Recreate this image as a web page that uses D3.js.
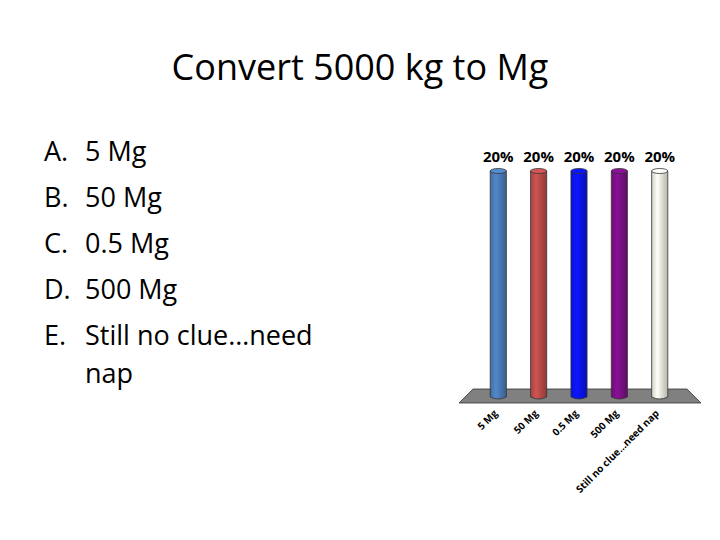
<!DOCTYPE html>
<html><head><meta charset="utf-8">
<script src="https://cdn.jsdelivr.net/npm/d3@7"></script>
<style>body{margin:0;background:#fff}</style></head>
<body><svg id="c" width="720" height="540"></svg>
<script>
const categories = ["5 Mg","50 Mg","0.5 Mg","500 Mg","Still no clue…need nap"];
const values = [20,20,20,20,20];
const colors = ["#4a7ab5","#b84c4a","#0a14ee","#7a0f86","#e9e8dc"];
const letters = ["A.","B.","C.","D.","E."];
const listText = ["5 Mg","50 Mg","0.5 Mg","500 Mg","Still no clue…need"];

const svg = d3.select("#c");
const font = "'Open Sans', 'Liberation Sans', sans-serif";
svg.append("text").attr("x",360).attr("y",80).attr("text-anchor","middle")
  .attr("font-family",font).attr("font-size",36).text("Convert 5000 kg to Mg");

const lg = svg.append("g").attr("font-family",font).attr("font-size",27);
letters.forEach((l,i)=>{
  const y = 161 + i*46;
  lg.append("text").attr("x",44).attr("y",y).text(l);
  lg.append("text").attr("x",85).attr("y",y).text(listText[i]);
});
lg.append("text").attr("x",85).attr("y",383).text("nap");

const x = d3.scaleBand().domain(categories).range([466,692]).padding(0.6);
const y = d3.scaleLinear().domain([0,20]).range([397,171]);
const g = svg.append("g");
// floor
g.append("path").attr("d","M473,389 L687,389 L701,403 L459,403 Z")
  .attr("fill","#808080").attr("stroke","#333").attr("stroke-width",0.8);
const defs = svg.append("defs");
categories.forEach((c,i)=>{
  const gr = defs.append("linearGradient").attr("id","g"+i);
  const base = d3.color(colors[i]);
  gr.append("stop").attr("offset","0%").attr("stop-color",base.darker(0.3));
  gr.append("stop").attr("offset","35%").attr("stop-color",base.brighter(0.3));
  gr.append("stop").attr("offset","100%").attr("stop-color",base.darker(0.7));
});
categories.forEach((c,i)=>{
  const bx = x(c), bw = x.bandwidth(), top = y(values[i]), bot = y(0);
  g.append("path")
    .attr("d",`M${bx},${top} L${bx},${bot} Q${bx+bw/2},${bot+4} ${bx+bw},${bot} L${bx+bw},${top} Z`)
    .attr("fill","url(#g"+i+")").attr("stroke","#333").attr("stroke-width",0.8);
  g.append("ellipse").attr("cx",bx+bw/2).attr("cy",top).attr("rx",bw/2).attr("ry",2.5)
    .attr("fill",d3.color(colors[i]).brighter(0.4)).attr("stroke","#333").attr("stroke-width",0.8);
  g.append("text").attr("x",bx+bw/2).attr("y",top-9).attr("text-anchor","middle")
    .attr("font-family",font).attr("font-weight","bold").attr("font-size",15).text(values[i]+"%");
  const lx = bx+bw/2, ly = 414;
  g.append("text").attr("transform",`translate(${lx},${ly}) rotate(-45)`)
    .attr("text-anchor","end").attr("font-family",font).attr("font-weight","bold")
    .attr("font-size",10).text(c);
});
</script></body></html>
